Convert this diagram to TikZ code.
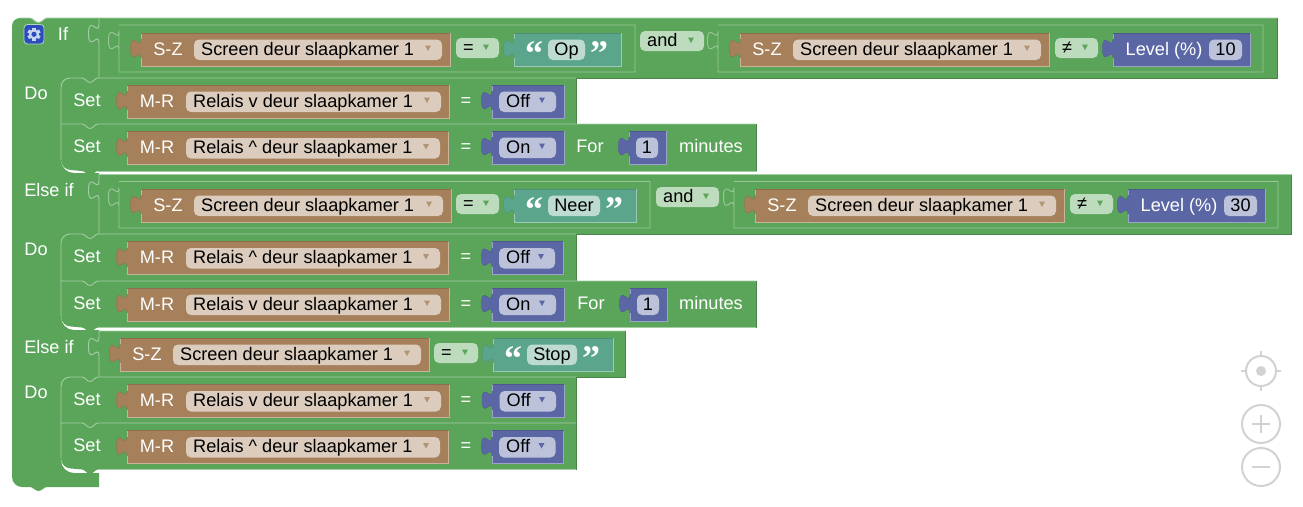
\documentclass[tikz,border=0pt]{standalone}
\usepackage{fontspec}
\setmainfont{Liberation Sans}
\newfontfamily\quotefont{Liberation Serif}
\definecolor{logicgreen}{HTML}{5BA55B}
\definecolor{devbrown}{HTML}{A5805B}
\definecolor{valueblue}{HTML}{5B67A5}
\definecolor{textteal}{HTML}{5BA58C}
\definecolor{zoomgrey}{HTML}{D2D2D2}
\definecolor{iconblue}{HTML}{2A4DBE}
\definecolor{icongear}{HTML}{C8D4F0}
\tikzset{
  lbl/.style={white, anchor=base, inner sep=0pt},
  fieldtxt/.style={black, anchor=base, inner sep=0pt},
  fieldtxtl/.style={black, anchor=base west, inner sep=0pt},
  hiline/.style={draw=logicgreen!55!white, line width=0.9pt},
  loline/.style={draw=logicgreen!80!black, line width=0.9pt},
  zoomring/.style={draw=zoomgrey, line width=2pt},
}
% x y of the tab on the left side of a block, y is the top of that block
\newcommand{\tabcurve}[2]{({#1},{#2+25}) .. controls ({#1},{#2+12.5}) and ({#1-10.5},{#2+35}) .. ({#1-10.5},{#2+15.6})
  .. controls ({#1-10.5},{#2-3.75}) and ({#1},{#2+18.75}) .. ({#1},{#2+6.25})}
% colour x1 y1 x2 y2
\newcommand{\tabblock}[5]{
  \fill[#1] ({#2},{#3}) -- ({#4},{#3}) -- ({#4},{#5}) -- ({#2},{#5}) -- \tabcurve{#2}{#3} -- cycle;
  \draw[draw=#1!62!white, line width=0.9pt] ({#2},{#3}) -- ({#4},{#3}) -- ({#4},{#5}) -- ({#2},{#5}) -- ({#2},{#3+25}) \tabcurve{#2}{#3} -- cycle;
}
\newcommand{\valueblock}[5]{
  \fill[#1] ({#2},{#3}) -- ({#4},{#3}) -- ({#4},{#5}) -- ({#2},{#5}) -- \tabcurve{#2}{#3} -- cycle;
  \draw[draw=#1!90!black, line width=0.5pt] \tabcurve{#2}{#3};
  \draw[draw=#1!60!white, line width=0.9pt] ({#4},{#3}) -- ({#4},{#5}) -- ({#2},{#5}) -- ({#2},{#3+25}) ({#2},{#3+6.25}) -- ({#2},{#3});
  \draw[draw=#1!85!black, line width=0.9pt] ({#2},{#3}) -- ({#4},{#3});
}
% colour x1 x2 y1 y2
\newcommand{\fieldrect}[5]{\fill[#1!40!white, rounded corners=5pt] ({#2},{#4}) rectangle ({#3},{#5});}
\newcommand{\ddarrow}[3]{\fill[#1] ({#2-3},{#3-3}) -- ({#2+3},{#3-3}) -- ({#2},{#3+2.5}) -- cycle;}
% name x1 x2 ytop offset prefix text
\newcommand{\devblock}[7]{
  \valueblock{devbrown}{#2}{#4}{#3}{#4+33}
  \fieldrect{devbrown}{#2+#5}{#3-8}{#4+6.5}{#4+27}
  \ddarrow{devbrown!85!white}{#3-22}{#4+15.5}
  \node (#1p) [lbl] at ({#2+#5/2+.5},{#4+22}) {#6};
  \node (#1f) [fieldtxtl] at ({#2+#5+7},{#4+22}) {#7};
}
% name x1 x2 ytop text
\newcommand{\enumblock}[5]{
  \valueblock{valueblue}{#2}{#4}{#3}{#4+33}
  \fieldrect{valueblue}{#2+7}{#3-8}{#4+6.5}{#4+27}
  \ddarrow{valueblue}{#3-22}{#4+15.5}
  \node (#1) [fieldtxtl] at ({#2+14},{#4+22}) {#5};
}
% name x1 ytop value
\newcommand{\numblock}[4]{
  \valueblock{valueblue}{#2}{#3}{#2+37}{#3+33}
  \fieldrect{valueblue}{#2+7}{#2+29}{#3+6.5}{#3+27}
  \node (#1) [fieldtxt] at ({#2+18},{#3+22}) {#4};
}
% name x1 x2 ytop value
\newcommand{\levelblock}[5]{
  \valueblock{valueblue}{#2}{#4}{#3}{#4+33}
  \fieldrect{valueblue}{#3-41}{#3-8}{#4+6.5}{#4+27}
  \node (#1p) [lbl] at ({#2+51},{#4+22}) {Level (\%)};
  \node (#1) [fieldtxt] at ({#3-24.5},{#4+22}) {#5};
}
% name x1 x2 ytop text
\newcommand{\strblock}[5]{
  \valueblock{textteal}{#2}{#4}{#3}{#4+33}
  \fieldrect{textteal}{#2+34}{#3-36}{#4+6.5}{#4+27}
  \node (#1o) [lbl] at ({#2+20},{#4+32}) {\quotefont\bfseries\fontsize{36}{36}\selectfont “};
  \node (#1c) [lbl] at ({#3-22},{#4+32}) {\quotefont\bfseries\fontsize{36}{36}\selectfont ”};
  \node (#1) [fieldtxt] at ({(#2+34+#3-36)/2},{#4+22}) {#5};
}
% name x1 x2 ytop text
\newcommand{\dropbox}[5]{
  \fieldrect{logicgreen}{#2}{#3}{#4}{#4+20}
  \ddarrow{logicgreen}{#3-13}{#4+9.5}
  \node (#1) [fieldtxtl] at ({#2+7},{#4+15.5}) {#5};
}
% ytop ybot x2
\newcommand{\firstset}[3]{
  \fill[logicgreen] (61,{#1}) rectangle ({#3},{#2});
  \draw[hiline] (61,{#2}) -- (61,{#1+9}) arc[start angle=180, end angle=270, radius=9]
    -- (82,{#1}) .. controls (85,{#1}) and (87,{#1+4.5}) .. (90,{#1+4.5}) .. controls (93,{#1+4.5}) and (95,{#1}) .. (98,{#1}) -- ({#3},{#1});
  \draw[loline] ({#3},{#1}) -- ({#3},{#2});
}
\newcommand{\lastset}[3]{
  \fill[logicgreen] (61,{#1}) -- ({#3},{#1}) -- ({#3},{#2}) -- (98,{#2}) .. controls (95,{#2}) and (93,{#2+4.5}) .. (90,{#2+4.5})
    .. controls (87,{#2+4.5}) and (85,{#2}) .. (82,{#2}) -- (71,{#2-1}) arc[start angle=90, end angle=180, radius=10] -- cycle;
  \draw[hiline] (61,{#2-11}) -- (61,{#1}) -- (82,{#1}) .. controls (85,{#1}) and (87,{#1+4.5}) .. (90,{#1+4.5}) .. controls (93,{#1+4.5}) and (95,{#1}) .. (98,{#1}) -- ({#3},{#1});
  \draw[hiline] (98,{#2}) -- ({#3},{#2});
  \draw[loline] ({#3},{#1}) -- ({#3},{#2});
}
% ytop ybot x2
\newcommand{\rowblock}[3]{
  \fill[logicgreen] (99,{#1}) -- ({#3},{#1}) -- ({#3},{#2}) -- (99,{#2}) -- \tabcurve{99}{#1} -- cycle;
  \draw[hiline] (99,{#2}) -- (99,{#1+25}) \tabcurve{99}{#1} -- (99,{#1}) -- ({#3},{#1});
  \draw[loline] ({#3},{#1}) -- ({#3},{#2}) -- (99,{#2});
}
\begin{document}
\begin{tikzpicture}[x=1pt, y=-1pt]
	\useasboundingbox (0,0) rectangle (1303,506);
	\fontsize{18.15}{21}\selectfont
	% the big block with its three openings
	\fill[logicgreen] (12,26) arc[start angle=180, end angle=270, radius=8] -- (30,18)
		.. controls (33,18) and (35,22.5) .. (38.5,22.5) .. controls (42,22.5) and (44,18) .. (47,18) -- (99,18) -- (99,78) -- (61,78)
		-- (61,160) arc[start angle=180, end angle=90, radius=13] -- (99,173) -- (99,234) -- (61,234)
		-- (61,317) arc[start angle=180, end angle=90, radius=13] -- (99,330) -- (99,377) -- (61,377)
		-- (61,460) arc[start angle=180, end angle=90, radius=13] -- (99,473) -- (99,487) -- (47,487)
		.. controls (44,487) and (42,491) .. (38.5,491) .. controls (35,491) and (33,487) .. (30,487) -- (22,487)
		arc[start angle=90, end angle=180, radius=10] -- cycle;
	\draw[hiline] (20,18) -- (30,18) .. controls (33,18) and (35,22.5) .. (38.5,22.5) .. controls (42,22.5) and (44,18) .. (47,18) -- (99,18);
	\filldraw[fill=iconblue, draw=logicgreen!45!white, line width=0.8pt, rounded corners=3.5pt] (24,24.5) rectangle (44,44);
	\fill[icongear] (34,34.3) circle (5);
	\foreach \a in {0,60,...,300} {
		\fill[icongear, rotate around={\a:(34,34.3)}] (32.3,27.6) rectangle (35.7,31);
	}
	\fill[iconblue] (34,34.3) circle (2.6);

	% if
	\rowblock{18}{78}{1277.5}
	\tabblock{logicgreen}{119}{25}{635}{72}
	\tabblock{logicgreen}{718}{25}{1263}{72}
	\node (ifLabel) [lbl] at (63,40) {If};
	\devblock{ifA}{141}{450}{33}{53}{S-Z}{Screen deur slaapkamer 1}
	\dropbox{ifEq}{456}{499}{38}{=}
	\strblock{ifOp}{514}{621}{33}{Op}
	\dropbox{ifAnd}{640}{704}{31}{and}
	\devblock{ifB}{740}{1049}{33}{53}{S-Z}{Screen deur slaapkamer 1}
	\dropbox{ifNe}{1055}{1098}{38}{≠}
	\levelblock{ifLevel}{1113}{1250}{33}{10}

	% do
	\firstset{78}{124}{576.5}
	\lastset{124}{171}{756.5}
	\node (doA) [lbl] at (36,99) {Do};
	\node (setA) [lbl] at (87,106) {Set};
	\devblock{relA}{127}{449}{85}{59}{M-R}{Relais v deur slaapkamer 1}
	\node (eqA) [lbl] at (466,106) {=};
	\enumblock{offA}{492}{564}{85}{Off}
	\node (setB) [lbl] at (87,152) {Set};
	\devblock{relB}{127}{448}{131.5}{59}{M-R}{Relais \^{} deur slaapkamer 1}
	\node (eqB) [lbl] at (466,152) {=};
	\enumblock{onA}{492}{564}{131}{On}
	\node (forA) [lbl] at (590,152) {For};
	\numblock{numA}{629}{131}{1}
	\node (minA) [lbl] at (711,152) {minutes};

	% else if
	\rowblock{174.5}{234}{1291.5}
	\tabblock{logicgreen}{119}{181.5}{650}{228}
	\tabblock{logicgreen}{734}{181.5}{1278}{228}
	\node (elseA) [lbl] at (49,196) {Else if};
	\devblock{elseAa}{141}{451}{189}{53}{S-Z}{Screen deur slaapkamer 1}
	\dropbox{elseAEq}{456}{499}{194}{=}
	\strblock{elseANeer}{514}{636}{189}{Neer}
	\dropbox{elseAAnd}{656}{719}{187}{and}
	\devblock{elseAb}{755}{1064}{189}{53}{S-Z}{Screen deur slaapkamer 1}
	\dropbox{elseANe}{1070}{1113}{194}{≠}
	\levelblock{elseALevel}{1128}{1265}{189}{30}

	% do
	\firstset{234}{281}{576.5}
	\lastset{281}{327.5}{756.5}
	\node (doB) [lbl] at (36,255) {Do};
	\node (setC) [lbl] at (87,262) {Set};
	\devblock{relC}{127}{448}{241.5}{59}{M-R}{Relais \^{} deur slaapkamer 1}
	\node (eqC) [lbl] at (466,262) {=};
	\enumblock{offB}{492}{563}{241.5}{Off}
	\node (setD) [lbl] at (87,309) {Set};
	\devblock{relD}{127}{449}{288}{59}{M-R}{Relais v deur slaapkamer 1}
	\node (eqD) [lbl] at (466,309) {=};
	\enumblock{onB}{492}{564}{288}{On}
	\node (forB) [lbl] at (591,309) {For};
	\numblock{numB}{630}{288}{1}
	\node (minB) [lbl] at (711,309) {minutes};

	% else if
	\rowblock{331}{377}{625.5}
	\node (elseB) [lbl] at (49,353) {Else if};
	\devblock{elseBa}{120}{429}{338}{53}{S-Z}{Screen deur slaapkamer 1}
	\dropbox{elseBEq}{434}{478}{343}{=}
	\strblock{elseBStop}{493}{613}{338}{Stop}

	% do
	\firstset{377}{423}{576.5}
	\lastset{423}{469.5}{576.5}
	\node (doC) [lbl] at (36,398) {Do};
	\node (setE) [lbl] at (87,405) {Set};
	\devblock{relE}{127}{449}{384.5}{59}{M-R}{Relais v deur slaapkamer 1}
	\node (eqE) [lbl] at (466,405) {=};
	\enumblock{offC}{492.5}{564}{384.5}{Off}
	\node (setF) [lbl] at (87,451) {Set};
	\devblock{relF}{127}{448}{430.5}{59}{M-R}{Relais \^{} deur slaapkamer 1}
	\node (eqF) [lbl] at (466,451) {=};
	\enumblock{offD}{492}{563.5}{430.5}{Off}

	% zoom controls
	\draw[zoomring] (1261,371) circle (15);
	\fill[zoomgrey] (1261,371) circle (5);
	\draw[zoomring] (1261,350.5) -- (1261,356) (1261,386) -- (1261,391) (1241,371) -- (1246,371) (1276,371) -- (1281,371);
	\draw[zoomring] (1261,424) circle (19);
	\draw[zoomring] (1252,424) -- (1270,424) (1261,415) -- (1261,433);
	\draw[zoomring] (1261,467) circle (19);
	\draw[zoomring] (1252,467) -- (1270,467);
\end{tikzpicture}
\end{document}
